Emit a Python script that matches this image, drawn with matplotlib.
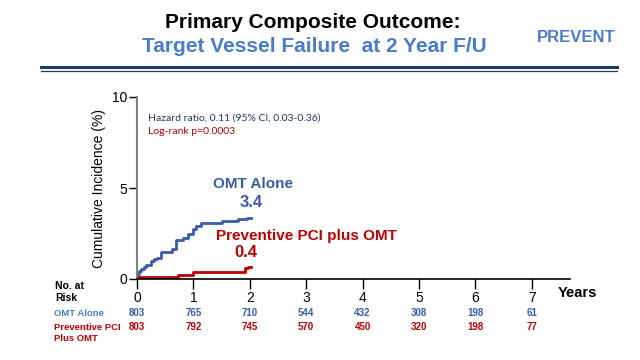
import matplotlib
matplotlib.use("Agg")
import matplotlib.pyplot as plt
from matplotlib.lines import Line2D
from matplotlib.transforms import blended_transform_factory

# Kaplan-Meier style curves (years, cumulative incidence %)
omt_t = [0, 0.01, 0.04, 0.07, 0.12, 0.16, 0.24, 0.30, 0.36, 0.42, 0.62, 0.70,
         0.82, 0.90, 0.99, 1.05, 1.14, 1.34, 1.51, 1.80, 1.95, 2.03]
omt_v = [0, 0.30, 0.45, 0.55, 0.65, 0.75, 0.98, 1.08, 1.16, 1.47, 1.66, 2.17,
         2.26, 2.45, 2.72, 2.90, 3.05, 3.09, 3.18, 3.28, 3.37, 3.37]
pci_t = [0, 0.72, 0.99, 1.91, 1.97, 2.03]
pci_v = [0.10, 0.22, 0.38, 0.60, 0.68, 0.68]

years = [0, 1, 2, 3, 4, 5, 6, 7]
risk_omt = [803, 765, 710, 544, 432, 308, 198, 61]
risk_pci = [803, 792, 745, 570, 450, 320, 198, 77]

blue = "#3a5ca8"
light_blue = "#4a7bcf"
red = "#c00000"
navy = "#1f3864"

plt.rcParams['font.family'] = ['Liberation Sans', 'DejaVu Sans']

fig = plt.figure(figsize=(6.4, 3.6), dpi=100)
W, H = 640.0, 360.0


def fx(px):
    return px / W


def fy(py):
    return 1 - py / H


# header
fig.text(fx(313), fy(22), "Primary Composite Outcome:", ha="center", va="center",
         fontsize=15, fontweight="bold", color="black")
fig.text(fx(314), fy(47), "Target Vessel Failure  at 2 Year F/U", ha="center", va="center",
         fontsize=15, fontweight="bold", color=light_blue)
fig.text(fx(576), fy(37), "PREVENT", ha="center", va="center",
         fontsize=12, fontweight="bold", color=light_blue)
fig.add_artist(Line2D([fx(41), fx(617)], [fy(66.5), fy(66.5)], color=navy, lw=2.2))
fig.add_artist(Line2D([fx(41), fx(617)], [fy(70.5), fy(70.5)], color=navy, lw=0.9))

# main axes
ax = fig.add_axes([fx(137), fy(279), fx(570) - fx(137), fy(97) - fy(279)])
ax.step(omt_t, omt_v, where="post", color=blue, lw=2)
ax.step(pci_t, pci_v, where="post", color=red, lw=2)
ax.set_xlim(0, 7.68)
ax.set_ylim(0, 10)
ax.set_xticks(years)
ax.set_xticklabels([str(y) for y in years], fontsize=10)
ax.set_yticks([0, 5, 10])
ax.set_yticklabels(["0", "5", "10"], fontsize=10)
ax.tick_params(axis="x", length=7, width=1, pad=2)
ax.tick_params(axis="y", length=6, width=1, pad=1)
ax.spines["top"].set_visible(False)
ax.spines["right"].set_visible(False)
ax.spines["left"].set_color("#808080")
ax.spines["left"].set_linewidth(1.5)
ax.spines["bottom"].set_linewidth(1.2)
ax.set_ylabel("Cumulative Incidence (%)", fontsize=10, labelpad=4)

# annotations
ax.text(0.2, 8.85, "Hazard ratio, 0.11 (95% CI, 0.03-0.36)", fontsize=7.5,
        color=navy, family=["Lato", "DejaVu Sans"], va="center")
ax.text(0.2, 8.1, "Log-rank p=0.0003", fontsize=7.5, color=red,
        family=["Lato", "DejaVu Sans"], va="center")
ax.text(2.06, 5.2, "OMT Alone", fontsize=11, fontweight="bold", color=blue, ha="center", va="center")
ax.text(2.03, 4.2, "3.4", fontsize=12, fontweight="bold", color=blue, ha="center", va="center")
ax.text(1.4, 2.38, "Preventive PCI plus OMT", fontsize=11, fontweight="bold", color=red,
        ha="left", va="center")
ax.text(1.93, 1.45, "0.4", fontsize=12, fontweight="bold", color=red, ha="center", va="center")

fig.text(fx(577), fy(293), "Years", fontsize=10.5, fontweight="bold", ha="center", va="center")

# number at risk table
fig.text(fx(55), fy(292), "No. at\nRisk", fontsize=7.5, fontweight="bold", ha="left",
         va="center", linespacing=1.3)
fig.text(fx(54), fy(313), "OMT Alone", fontsize=6.8, color=light_blue, ha="left", va="center",
         fontweight="bold")
fig.text(fx(54), fy(333), "Preventive PCI\nPlus OMT", fontsize=6.8, color=red, ha="left",
         va="center", linespacing=1.3, fontweight="bold")
trans = blended_transform_factory(ax.transData, fig.transFigure)
for x, a, b in zip(years, risk_omt, risk_pci):
    fig.text(x, fy(313), str(a), transform=trans, fontsize=7, color=blue,
             ha="center", va="center", fontweight="bold")
    fig.text(x, fy(327), str(b), transform=trans, fontsize=7, color=red,
             ha="center", va="center", fontweight="bold")

fig.savefig("out.png", dpi=100)
